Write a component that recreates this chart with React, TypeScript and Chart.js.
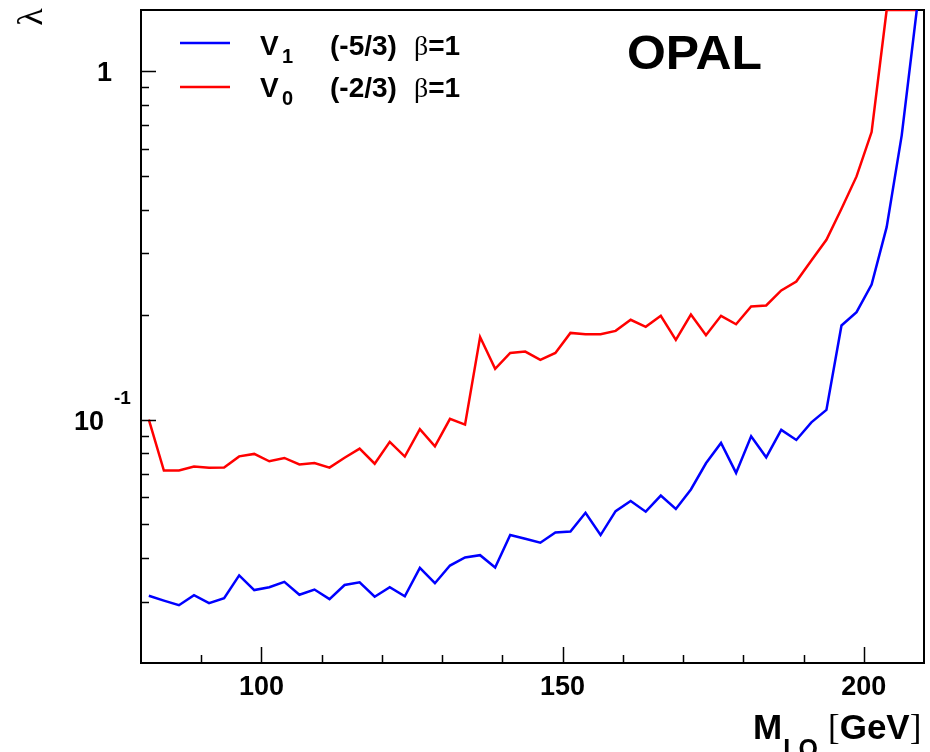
import React, { useEffect, useRef } from "react";
import { Chart, registerables } from "chart.js";
Chart.register(...registerables);

const massGeV = [81.3, 83.8, 86.3, 88.8, 91.3, 93.8, 96.3, 98.8, 101.3, 103.8, 106.3, 108.8, 111.3, 113.8, 116.3, 118.8, 121.3, 123.8, 126.3, 128.8, 131.3, 133.8, 136.3, 138.8, 141.3, 143.8, 146.3, 148.8, 151.3, 153.8, 156.3, 158.8, 161.3, 163.8, 166.3, 168.8, 171.3, 173.8, 176.3, 178.8, 181.3, 183.8, 186.3, 188.8, 191.3, 193.8, 196.3, 198.8, 201.3, 203.8, 206.3, 208.8];

const lambdaV1 = [0.0312, 0.0302, 0.0293, 0.0313, 0.0297, 0.0307, 0.0357, 0.0324, 0.033, 0.0342, 0.0314, 0.0325, 0.0305, 0.0335, 0.0341, 0.031, 0.033, 0.0311, 0.0375, 0.0339, 0.0381, 0.0402, 0.0408, 0.0376, 0.0466, 0.0455, 0.0443, 0.0474, 0.0477, 0.054, 0.0466, 0.0546, 0.0584, 0.0544, 0.0605, 0.0554, 0.063, 0.0749, 0.0857, 0.0703, 0.0895, 0.0779, 0.0934, 0.0874, 0.0982, 0.1066, 0.1863, 0.2034, 0.2443, 0.3569, 0.6548, 1.5];

const lambdaV0 = [0.1, 0.0714, 0.0714, 0.0733, 0.0727, 0.0728, 0.0784, 0.0797, 0.0759, 0.0776, 0.0743, 0.075, 0.0728, 0.0777, 0.0825, 0.0747, 0.0863, 0.0783, 0.0938, 0.0838, 0.1005, 0.0967, 0.1726, 0.1398, 0.1554, 0.1568, 0.1484, 0.1554, 0.1774, 0.1758, 0.1758, 0.1798, 0.1934, 0.1846, 0.1986, 0.1694, 0.2003, 0.1747, 0.1986, 0.1878, 0.2113, 0.2127, 0.2348, 0.2491, 0.2863, 0.3283, 0.403, 0.4992, 0.6694, 1.5, 1.5, 1.5];

const xMajorTicks = [100, 150, 200];
const xMinorTicks = [90, 110, 120, 130, 140, 160, 170, 180, 190];
const yMajorTicks = [1, 0.1];
const yMajorLabels = [["1", ""], ["10", "-1"]];
const yMinorTicks = [0.03, 0.04, 0.05, 0.06, 0.07, 0.08, 0.09, 0.2, 0.3, 0.4, 0.5, 0.6, 0.7, 0.8, 0.9];

const SANS = '"Liberation Sans", Arial, sans-serif';
const SERIF = '"Liberation Serif", "Times New Roman", serif';

const decorPlugin = {
  id: "decor",
  beforeDatasetsDraw(chart: any) {
    const ctx = chart.ctx as CanvasRenderingContext2D;
    const { left, right, top, bottom } = chart.chartArea;
    ctx.save();
    ctx.strokeStyle = "#000";
    ctx.lineWidth = 2;
    ctx.strokeRect(left, top, right - left, bottom - top);
    ctx.restore();
  },
  afterDraw(chart: any) {
    const ctx = chart.ctx as CanvasRenderingContext2D;
    const { left, bottom } = chart.chartArea;
    const xs = chart.scales.x;
    const ys = chart.scales.y;
    ctx.save();
    // ticks
    ctx.strokeStyle = "#000";
    ctx.lineWidth = 1.5;
    ctx.beginPath();
    xMajorTicks.forEach((v) => {
      const px = Math.round(xs.getPixelForValue(v)) + 0.5;
      ctx.moveTo(px, bottom);
      ctx.lineTo(px, bottom - 16);
    });
    xMinorTicks.forEach((v) => {
      const px = Math.round(xs.getPixelForValue(v)) + 0.5;
      ctx.moveTo(px, bottom);
      ctx.lineTo(px, bottom - 8);
    });
    yMajorTicks.forEach((v) => {
      const py = Math.round(ys.getPixelForValue(v)) + 0.5;
      ctx.moveTo(left, py);
      ctx.lineTo(left + 15, py);
    });
    yMinorTicks.forEach((v) => {
      const py = Math.round(ys.getPixelForValue(v)) + 0.5;
      ctx.moveTo(left, py);
      ctx.lineTo(left + 8, py);
    });
    ctx.stroke();

    ctx.fillStyle = "#000";
    // x tick labels
    ctx.font = `bold 27px ${SANS}`;
    ctx.textAlign = "center";
    ctx.textBaseline = "alphabetic";
    xMajorTicks.forEach((v) => {
      ctx.fillText(String(v), xs.getPixelForValue(v), bottom + 32);
    });
    // y tick labels
    yMajorTicks.forEach((v, i) => {
      const py = ys.getPixelForValue(v);
      const [base, sup] = yMajorLabels[i];
      if (sup) {
        ctx.font = `bold 27px ${SANS}`;
        ctx.textAlign = "right";
        ctx.fillText(base, 104, py + 10);
        ctx.font = `bold 19px ${SANS}`;
        ctx.textAlign = "left";
        ctx.fillText(sup, 114, py - 16);
      } else {
        ctx.font = `bold 27px ${SANS}`;
        ctx.textAlign = "right";
        ctx.fillText(base, 112, py + 10);
      }
    });

    // y axis title (rotated lambda)
    ctx.save();
    ctx.translate(33, 17);
    ctx.rotate(-Math.PI / 2);
    ctx.font = `36px ${SERIF}`;
    ctx.textAlign = "center";
    ctx.textBaseline = "middle";
    ctx.fillText("λ", 0, 0);
    ctx.restore();

    // x axis title
    ctx.textAlign = "left";
    ctx.textBaseline = "alphabetic";
    let x = 753;
    ctx.font = `bold 35px ${SANS}`;
    ctx.fillText("M", x, 739);
    x += ctx.measureText("M").width + 1;
    ctx.font = `bold 25px ${SANS}`;
    ctx.fillText("LQ", x, 757);
    x = 828;
    ctx.font = `35px ${SERIF}`;
    ctx.fillText("[", x, 739);
    x += ctx.measureText("[").width;
    ctx.font = `bold 35px ${SANS}`;
    ctx.fillText("GeV", x, 739);
    x += ctx.measureText("GeV").width;
    ctx.font = `35px ${SERIF}`;
    ctx.fillText("]", x, 739);

    // OPAL label
    ctx.save();
    ctx.font = `bold 48px ${SANS}`;
    const ow = ctx.measureText("OPAL").width;
    ctx.translate(627, 69);
    ctx.scale(135 / ow, 1);
    ctx.fillText("OPAL", 0, 0);
    ctx.restore();

    // legend
    const rows = [
      { color: "#0000ff", y: 43, base: 55, sub: "1", q: "(-5/3)" },
      { color: "#ff0000", y: 87, base: 97, sub: "0", q: "(-2/3)" },
    ];
    rows.forEach((r) => {
      ctx.strokeStyle = r.color;
      ctx.lineWidth = 2.5;
      ctx.beginPath();
      ctx.moveTo(180, r.y);
      ctx.lineTo(230, r.y);
      ctx.stroke();
      ctx.fillStyle = "#000";
      ctx.font = `bold 28px ${SANS}`;
      ctx.fillText("V", 260, r.base);
      ctx.font = `bold 20px ${SANS}`;
      ctx.fillText(r.sub, 282, r.base + 8);
      ctx.font = `bold 28px ${SANS}`;
      ctx.fillText(r.q, 330, r.base);
      ctx.font = `28px ${SERIF}`;
      ctx.fillText("β", 414, r.base);
      const bw = ctx.measureText("β").width;
      ctx.font = `bold 28px ${SANS}`;
      ctx.fillText("=1", 414 + bw, r.base);
    });
    ctx.restore();
  },
};

export default function App() {
  const ref = useRef<HTMLCanvasElement>(null);
  useEffect(() => {
    if (!ref.current) return;
    const chart = new Chart(ref.current, {
      type: "line",
      data: {
        datasets: [
          {
            label: "V1 (-5/3) β=1",
            data: massGeV.map((m, i) => ({ x: m, y: lambdaV1[i] })),
            borderColor: "#0000ff",
            borderWidth: 2.5,
            pointRadius: 0,
            tension: 0,
            fill: false,
          },
          {
            label: "V0 (-2/3) β=1",
            data: massGeV.map((m, i) => ({ x: m, y: lambdaV0[i] })),
            borderColor: "#ff0000",
            borderWidth: 2.5,
            pointRadius: 0,
            tension: 0,
            fill: false,
          },
        ],
      },
      options: {
        responsive: false,
        animation: false,
        layout: { padding: { left: 141, top: 10, right: 6, bottom: 89 } },
        plugins: { legend: { display: false }, tooltip: { enabled: false } },
        scales: {
          x: { type: "linear", min: 80, max: 210, display: false },
          y: { type: "logarithmic", min: 0.02, max: 1.5, display: false },
        },
      },
      plugins: [decorPlugin],
    });
    return () => chart.destroy();
  }, []);
  return (
    <div style={{ position: "absolute", left: 0, top: 0, width: 930, height: 752, background: "#fff" }}>
      <canvas ref={ref} width={930} height={752} />
    </div>
  );
}
